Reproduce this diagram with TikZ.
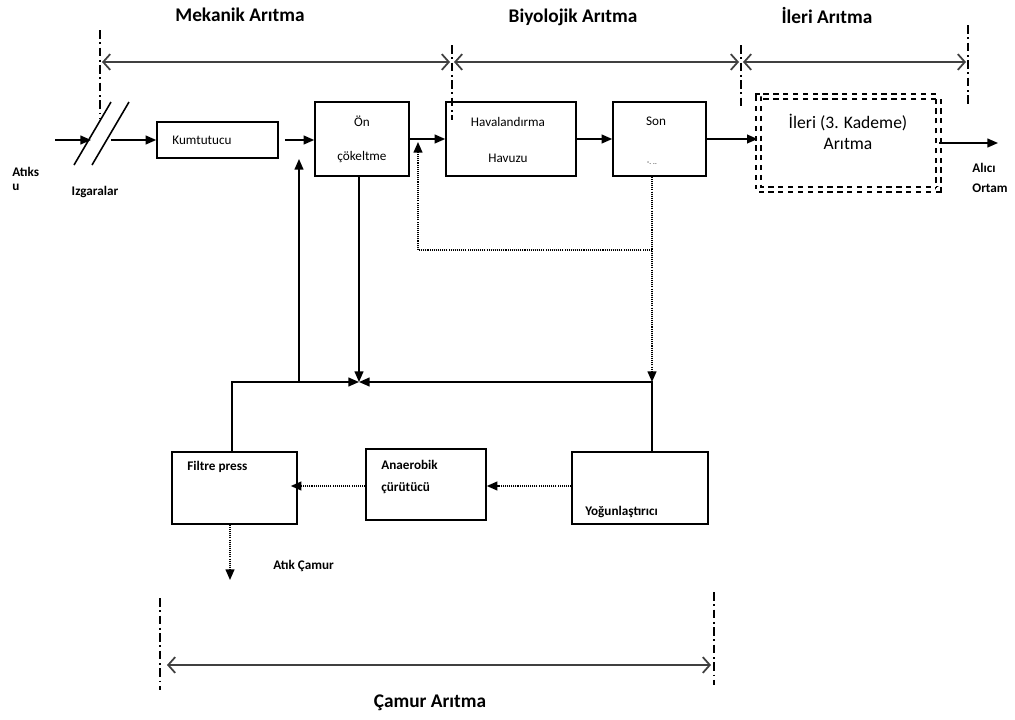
\documentclass[tikz,border=0pt]{standalone}
\usepackage{fontspec}
\setmainfont{Carlito}
\usetikzlibrary{arrows.meta, positioning}

\begin{document}
\begin{tikzpicture}[x=0.02cm, y=-0.02cm, >={Triangle[length=6pt, width=5pt]}]
		\tikzstyle{box} = [draw=black, line width=0.9pt, rectangle, inner sep=0]
		\tikzstyle{dbox} = [draw=black, line width=1.1pt, double, double distance=1.3pt, dash pattern=on 3pt off 2.6pt, rectangle, inner sep=0]
		\tikzstyle{txt} = [draw=none, inner sep=0, font=\fontsize{7.5}{9}\selectfont]
		\tikzstyle{btxt} = [draw=none, inner sep=0, font=\fontsize{7.5}{9}\selectfont\bfseries]
		\tikzstyle{title} = [draw=none, inner sep=0, font=\fontsize{11}{13}\selectfont\bfseries]
		\tikzstyle{flow} = [line width=0.9pt]
		\tikzstyle{sludge} = [line width=0.9pt, dash pattern=on 0.6pt off 0.6pt]
		\tikzstyle{border} = [line width=0.6pt, dash pattern=on 5pt off 2pt on 1pt off 2pt]
		\tikzstyle{span} = [line width=1pt, black!75, {Straight Barb[length=4pt, width=9pt]}-{Straight Barb[length=4pt, width=9pt]}]
		
		\useasboundingbox (0,0) rectangle (1015,720);
		
		% titles
		\node[title] 	at (240, 15) 	(tmek) 	{Mekanik Arıtma};
		\node[title] 	at (573, 17) 	(tbio) 	{Biyolojik Arıtma};
		\node[title] 	at (827, 15) 	(tile) 	{İleri Arıtma};
		\node[title] 	at (430, 703) 	(tcam) 	{Çamur Arıtma};
		
		% boxes
		\node[box, minimum width=2.42cm, minimum height=0.72cm] 	at (217.5, 140) 	(kum) 	{};
		\node[box, minimum width=1.88cm, minimum height=1.48cm] 	at (362, 139) 		(on) 	{};
		\node[box, minimum width=2.6cm, minimum height=1.48cm] 		at (511, 139) 		(hav) 	{};
		\node[box, minimum width=1.86cm, minimum height=1.48cm] 	at (659.5, 139) 	(son) 	{};
		\node[dbox, minimum width=3.6cm, minimum height=1.86cm] 	at (848.5, 143) 	(ileri) {};
		\node[box, minimum width=2.5cm, minimum height=1.44cm] 		at (234.5, 488) 	(filtre) {};
		\node[box, minimum width=2.4cm, minimum height=1.42cm] 		at (426, 484.5) 	(anaer) {};
		\node[box, minimum width=2.72cm, minimum height=1.44cm] 	at (640, 488) 		(yogun) {};
		
		% labels
		\node[btxt, anchor=west, align=left, font=\fontsize{7.5}{8}\selectfont\bfseries] 	at (12, 179) 	(latik) 	{Atıks\\u};
		\node[btxt] 	at (95, 192) 	(liz) 	{Izgaralar};
		\node[btxt, anchor=west, align=left, font=\fontsize{7.5}{11}\selectfont\bfseries] 	at (972, 178) 	(lalici) 	{Alıcı\\Ortam};
		\node[txt, anchor=west] 	at (172, 140) 	(lkum) 	{Kumtutucu};
		\node[txt] 	at (362, 121) 	(lon1) 	{Ön};
		\node[txt] 	at (362, 157) 	(lon2) 	{çökeltme};
		\node[txt] 	at (508, 122) 	(lhav1) {Havalandırma};
		\node[txt] 	at (508, 158) 	(lhav2) {Havuzu};
		\node[txt] 	at (656, 121) 	(lson1) {Son};
		\node[txt, font=\fontsize{4}{5}\selectfont] 	at (652, 163) 	(lson2) {-. ..};
		\node[draw=none, align=center, font=\fontsize{10}{12}\selectfont] 	at (848, 132) 	(lileri) 	{İleri (3. Kademe)\\Arıtma};
		\node[btxt, anchor=west] 	at (187, 467) 	(lfil) 	{Filtre press};
		\node[btxt, anchor=west, align=left, font=\fontsize{7.5}{12}\selectfont\bfseries] 	at (381, 477) 	(lana) 	{Anaerobik\\çürütücü};
		\node[btxt, anchor=west] 	at (585, 512) 	(lyog) 	{Yoğunlaştırıcı};
		\node[btxt, anchor=west] 	at (273, 566) 	(lcam) 	{Atık Çamur};
		
		% points
		\coordinate 	(src) 	at (55, 140);
		\coordinate 	(izin) 	at (91, 140);
		\coordinate 	(izout) at (111, 140);
		\coordinate 	(sink) 	at (998, 143);
		\coordinate 	(J) 	at (359, 382);
		\coordinate 	(Jl) 	at (232, 382);
		\coordinate 	(Jr) 	at (652, 382);
		\coordinate 	(up0) 	at (299, 382);
		\coordinate 	(up1) 	at (299, 159);
		\coordinate 	(rs) 	at (652, 250);
		\coordinate 	(rl) 	at (418, 250);
		\coordinate 	(rt) 	at (418, 142);
		\coordinate 	(waste) at (230, 580);
		
		% grating
		\draw[flow] (74, 165) -- (111, 102);
		\draw[flow] (92, 165) -- (129, 102);
		
		% main line
		\path[->, flow]
		(src)	edge	(izin)
		(izout)	edge	(kum)
		(on)	edge	(hav)
		(hav)	edge	(son)
		(ileri)	edge	(sink);
		\draw[->, flow] ([xshift=0.12cm]kum.east) -- (kum.east -| on.west);
		\draw[->, flow] (son.east) -- (son.east -| ileri.west);
		
		% sludge lines
		\draw[->, flow] (J |- on.south) -- (J);
		\draw[->, flow] (Jl |- filtre.north) -- (Jl) -- (J);
		\draw[->, flow] (Jr |- yogun.north) -- (Jr) -- (J);
		\draw[->, flow] (up0) -- (up1);
		\draw[->, sludge] (Jr |- son.south) -- (Jr);
		\draw[->, sludge] (rs) -- (rl) -- (rt);
		\draw[->, sludge] (yogun.west |- 0, 486) -- (anaer.east |- 0, 486);
		\draw[->, sludge] (anaer.west |- 0, 486) -- ([xshift=-0.14cm]filtre.east |- 0, 486);
		\draw[->, sludge] (filtre.south -| waste) -- (waste);
		
		% stage limits
		\draw[border] (100, 30) -- (100, 118);
		\draw[border] (452, 45) -- (452, 120);
		\draw[border] (741, 45) -- (741, 110);
		\draw[border] (968, 25) -- (968, 105);
		\draw[border] (160, 598) -- (160, 690);
		\draw[border] (714, 592) -- (714, 685);
		
		\coordinate 	(m0) 	at (102, 62);
		\coordinate 	(m1) 	at (450, 62);
		\coordinate 	(b0) 	at (454, 62);
		\coordinate 	(b1) 	at (739, 62);
		\coordinate 	(i0) 	at (743, 62);
		\coordinate 	(i1) 	at (966, 62);
		\coordinate 	(c0) 	at (167, 665);
		\coordinate 	(c1) 	at (711, 665);
		\draw[span] (m0) -- (m1);
		\draw[span] (b0) -- (b1);
		\draw[span] (i0) -- (i1);
		\draw[span] (c0) -- (c1);
		\end{tikzpicture}
\end{document}
